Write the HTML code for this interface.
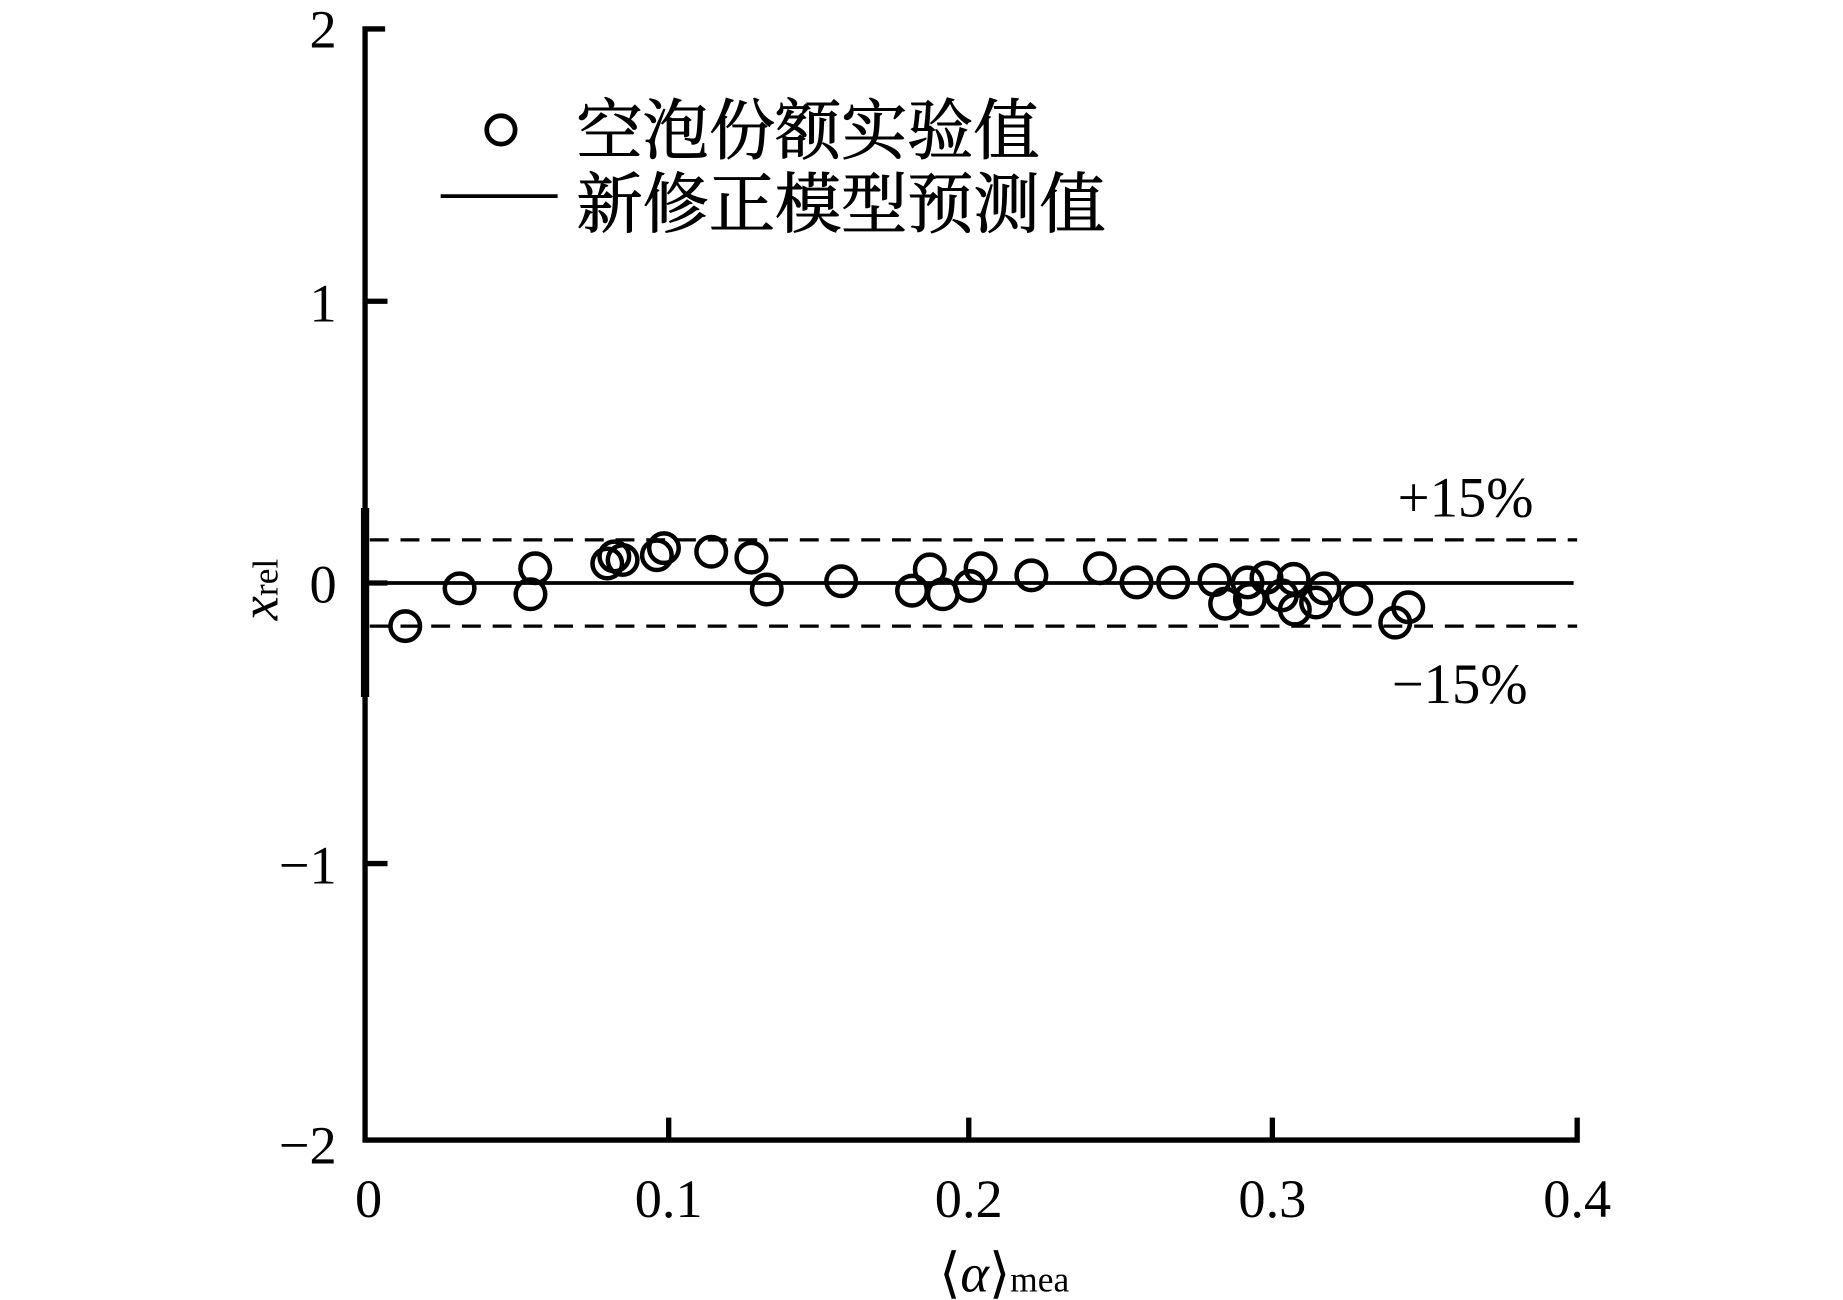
<!DOCTYPE html>
<html><head><meta charset="utf-8"><style>html,body{margin:0;padding:0;background:#fff}svg{display:block}</style></head>
<body>
<svg width="1843" height="1300" viewBox="0 0 1560 1100.4" xmlns="http://www.w3.org/2000/svg" font-family="'Liberation Serif','Noto Serif CJK SC',serif" fill="#000">
<g stroke="#000" stroke-width="4.5" fill="none">
<path d="M326,24.5 H309 V965 H1335 V946"/>
<path d="M309,255 H328 M309,493.5 H328 M309,731 H328 M566,965 V946 M820,965 V946 M1077,965 V946"/>
<path d="M309,430 V590" stroke-width="7"/>
</g>
<line x1="309" y1="493.5" x2="1332" y2="493.5" stroke="#000" stroke-width="3.2"/>
<g stroke="#000" stroke-width="2.8" stroke-dasharray="16,10">
<line x1="313" y1="457" x2="1335" y2="457"/>
<line x1="313" y1="530" x2="1335" y2="530"/>
</g>
<g font-size="46" text-anchor="end">
<text x="285" y="40">2</text>
<text x="285" y="272">1</text>
<text x="285" y="510">0</text>
<text x="285" y="748">−1</text>
<text x="285" y="985">−2</text>
</g>
<g font-size="46" text-anchor="middle">
<text x="312" y="1030">0</text>
<text x="566" y="1030">0.1</text>
<text x="820" y="1030">0.2</text>
<text x="1077" y="1030">0.3</text>
<text x="1335" y="1030">0.4</text>
</g>
<text x="795" y="1093" font-size="46">⟨<tspan font-style="italic">α</tspan>⟩<tspan font-size="30">mea</tspan></text>
<text transform="translate(235,525) rotate(-90)" font-size="46"><tspan font-style="italic">x</tspan><tspan font-size="30">rel</tspan></text>
<text x="1183" y="437" font-size="48">+15%</text>
<text x="1178" y="595" font-size="48">−15%</text>
<circle cx="424" cy="110" r="12" fill="none" stroke="#000" stroke-width="4"/>
<line x1="373" y1="166" x2="472" y2="166" stroke="#000" stroke-width="3.2"/>
<g font-size="56" stroke="#000" stroke-width="0.8">
<text x="488" y="130">空泡份额实验值</text>
<text x="488" y="192">新修正模型预测值</text>
</g>
<g fill="none" stroke="#000" stroke-width="3.8">
<circle cx="343" cy="530" r="12.5"/><circle cx="389" cy="498" r="12.5"/><circle cx="453" cy="481" r="12.5"/><circle cx="449" cy="503" r="12.5"/>
<circle cx="514" cy="477" r="12.5"/><circle cx="520" cy="471" r="12.5"/><circle cx="527" cy="474" r="12.5"/><circle cx="556" cy="470" r="12.5"/>
<circle cx="562" cy="464" r="12.5"/><circle cx="602" cy="467" r="12.5"/><circle cx="636" cy="472" r="12.5"/><circle cx="649" cy="499" r="12.5"/>
<circle cx="712" cy="492" r="12.5"/><circle cx="772" cy="500" r="12.5"/><circle cx="787" cy="482" r="12.5"/><circle cx="798" cy="503" r="12.5"/>
<circle cx="821" cy="496" r="12.5"/><circle cx="830" cy="481" r="12.5"/><circle cx="873" cy="487" r="12.5"/><circle cx="931" cy="481" r="12.5"/>
<circle cx="962" cy="493" r="12.5"/><circle cx="993" cy="493" r="12.5"/><circle cx="1028" cy="491" r="12.5"/><circle cx="1037" cy="511" r="12.5"/>
<circle cx="1056" cy="493" r="12.5"/><circle cx="1058" cy="507" r="12.5"/><circle cx="1072" cy="489" r="12.5"/><circle cx="1085" cy="504" r="12.5"/>
<circle cx="1095" cy="490" r="12.5"/><circle cx="1096" cy="516" r="12.5"/><circle cx="1114" cy="510" r="12.5"/><circle cx="1121" cy="498" r="12.5"/>
<circle cx="1148" cy="507" r="12.5"/><circle cx="1181" cy="527" r="12.5"/><circle cx="1192" cy="514" r="12.5"/>
</g>
</svg>
</body></html>
